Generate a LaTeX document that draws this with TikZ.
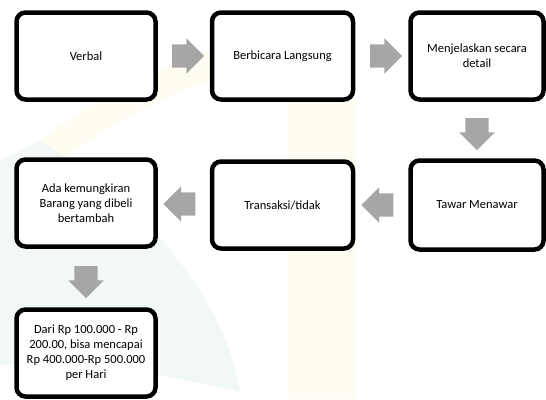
\documentclass[tikz,border=0pt]{standalone}
\usepackage{fontspec}
\setmainfont{Carlito}
\usetikzlibrary{shapes.arrows}
\definecolor{arrowgray}{HTML}{A6A6A6}
\definecolor{wmyellow}{HTML}{FFFDF2}
\definecolor{wmgreen}{HTML}{F2F8F4}
\tikzset{
  box/.style={draw, fill=white, line width=4.5pt, rounded corners=9pt,
    minimum width=139pt, minimum height=87pt, align=center,
    font=\fontsize{12.5}{15}\selectfont},
  arrowbase/.style={single arrow, fill=arrowgray, minimum height=32pt, pos=0.47,
    single arrow head extend=6pt, single arrow head indent=0pt},
  harrow/.style={arrowbase, inner xsep=0pt, inner ysep=11.5pt, shape border rotate=#1},
  varrow/.style={arrowbase, inner xsep=11.5pt, inner ysep=0pt, shape border rotate=270}
}
\begin{document}
\begin{tikzpicture}[x=1pt,y=-1pt]
\useasboundingbox[fill=white] (0,0) rectangle (546,399);
% watermark
\fill[wmyellow] (287,100) rectangle (356,399);
\draw[wmyellow,line width=28pt] (0,190) .. controls (100,105) and (200,55) .. (330,38);
\fill[wmgreen] (40,140) .. controls (170,220) and (230,320) .. (240,392)
  .. controls (150,370) and (60,360) .. (0,365) -- (0,160) -- cycle;
% boxes
\node[box] (verbal) at (86,56) {Verbal};
\node[box,minimum width=141pt] (langsung) at (282.5,56) {Berbicara Langsung};
\node[box,minimum width=133pt] (detail) at (477,56) {Menjelaskan secara\\detail};
\node[box,minimum width=133pt,minimum height=89pt] (tawar) at (477,205) {Tawar Menawar};
\node[box,minimum width=141pt] (transaksi) at (282.5,205) {Transaksi/tidak};
\node[box] (ada) at (86,203) {Ada kemungkiran\\Barang yang dibeli\\bertambah};
\node[box] (dari) at (86,353) {Dari Rp 100.000 - Rp\\200.00, bisa mencapai\\Rp 400.000-Rp 500.000\\per Hari};
% arrows
\path (verbal) -- (langsung) node[harrow=0] (a1) {};
\path (langsung) -- (detail) node[harrow=0] (a2) {};
\path (detail) -- (tawar) node[varrow] (a3) {};
\path (tawar) -- (transaksi) node[harrow=180] (a4) {};
\path (transaksi) -- (ada) node[harrow=180] (a5) {};
\path (ada) -- (dari) node[varrow] (a6) {};
\end{tikzpicture}
\end{document}
